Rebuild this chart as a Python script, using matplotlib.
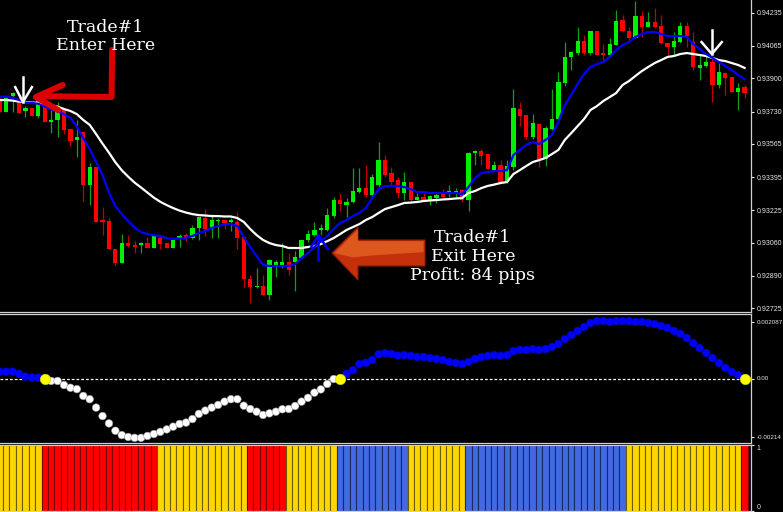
import numpy as np
import matplotlib
matplotlib.use("Agg")
import matplotlib.pyplot as plt
from matplotlib.patches import Polygon

plt.rcParams["font.family"] = ["Liberation Sans", "DejaVu Sans"]

# ---- price bars ----
opens = [
    .93789, .93728, .93809, .93789, .93733, .93748, .93707, .93753, .93677, .93687,
    .93738, .93641, .93585, .93625, .93355, .93447, .93176, .93171, .93028, .92956,
    .93058, .93048, .93048, .93058, .93033, .93084, .93058, .93033, .93084, .93099,
    .93084, .93135, .93186, .93135, .93171, .93176, .93166, .93166, .93089, .92874,
    .92834, .92839, .92793, .92936, .92936, .92961, .92961, .92982, .93074, .93099,
    .93125, .93125, .93196, .93278, .93252, .93268, .93319, .93339, .93304, .93355,
    .93482, .93416, .93380, .93314, .93370, .93278, .93293, .93278, .93288, .93309,
    .93314, .93314, .93329, .93278, .93518, .93528, .93513, .93431, .93457, .93370,
    .93447, .93743, .93712, .93600, .93666, .93488, .93641, .93692, .93876, .94009,
    .94029, .94090, .94029, .94142, .94029, .94019, .94070, .94198, .94142, .94106,
    .94218, .94162, .94188, .94167, .94080, .94060, .94085, .94167, .94085, .93953,
    .93963, .93983, .93866, .93927, .93907, .93830, .93855]
highs = [
    .93799, .93809, .93830, .93809, .93758, .93748, .93809, .93769, .93753, .93779,
    .93738, .93641, .93687, .93625, .93467, .93447, .93242, .93186, .93028, .93104,
    .93099, .93068, .93063, .93089, .93094, .93099, .93058, .93074, .93104, .93109,
    .93150, .93191, .93232, .93206, .93186, .93176, .93186, .93217, .93089, .92895,
    .92931, .92895, .92976, .92971, .93058, .93007, .93017, .93074, .93125, .93166,
    .93155, .93237, .93293, .93314, .93288, .93442, .93442, .93457, .93411, .93574,
    .93508, .93447, .93396, .93421, .93370, .93314, .93319, .93304, .93319, .93334,
    .93355, .93339, .93334, .93523, .93534, .93539, .93513, .93477, .93482, .93482,
    .93845, .93779, .93712, .93717, .93671, .93656, .93845, .93932, .94085, .94034,
    .94162, .94121, .94142, .94142, .94075, .94106, .94249, .94223, .94162, .94295,
    .94244, .94239, .94259, .94223, .94080, .94136, .94188, .94188, .94136, .94019,
    .94029, .94009, .93978, .93932, .93907, .93876, .93866]
lows = [
    .93728, .93728, .93728, .93723, .93702, .93707, .93697, .93677, .93620, .93600,
    .93615, .93554, .93498, .93273, .93252, .93166, .93099, .93028, .92946, .92956,
    .93038, .93007, .93007, .93033, .93033, .93028, .93033, .93033, .93038, .93068,
    .93079, .93074, .93094, .93084, .93084, .93130, .93120, .93028, .92834, .92752,
    .92828, .92793, .92767, .92885, .92931, .92895, .92813, .92982, .93063, .93094,
    .93099, .93120, .93186, .93222, .93191, .93263, .93314, .93293, .93293, .93344,
    .93396, .93355, .93288, .93278, .93268, .93278, .93268, .93252, .93263, .93293,
    .93293, .93293, .93268, .93222, .93457, .93457, .93436, .93426, .93365, .93365,
    .93431, .93656, .93590, .93590, .93447, .93452, .93636, .93687, .93861, .93942,
    .94019, .94019, .94019, .94019, .93983, .94009, .94070, .94136, .94085, .94106,
    .94111, .94162, .94157, .94075, .94019, .94019, .94080, .94060, .93942, .93891,
    .93958, .93779, .93850, .93815, .93830, .93738, .93799]
closes = [
    .93728, .93799, .93825, .93723, .93748, .93707, .93799, .93677, .93687, .93738,
    .93636, .93580, .93600, .93355, .93447, .93166, .93166, .93028, .92956, .93058,
    .93043, .93038, .93058, .93033, .93094, .93053, .93033, .93074, .93094, .93084,
    .93135, .93191, .93130, .93176, .93176, .93160, .93176, .93084, .92874, .92834,
    .92839, .92793, .92971, .92961, .92961, .92920, .92987, .93074, .93104, .93125,
    .93135, .93201, .93278, .93258, .93268, .93324, .93339, .93304, .93396, .93482,
    .93406, .93370, .93314, .93370, .93278, .93293, .93273, .93298, .93304, .93293,
    .93324, .93324, .93278, .93518, .93528, .93503, .93436, .93457, .93370, .93452,
    .93748, .93707, .93600, .93671, .93488, .93646, .93692, .93881, .94009, .94034,
    .94090, .94029, .94142, .94019, .94019, .94075, .94193, .94142, .94106, .94218,
    .94162, .94188, .94162, .94080, .94060, .94090, .94167, .94116, .93958, .93968,
    .93983, .93866, .93932, .93901, .93830, .93850, .93825]

# moving averages (blue = fast, white = slow), read per bar
ma_fast = [
    .93806, .93806, .93799, .93789, .93776, .93774, .93770, .93756, .93740, .93730,
    .93716, .93697, .93654, .93593, .93539, .93472, .93406, .93316, .93247, .93206,
    .93171, .93137, .93114, .93104, .93098, .93095, .93082, .93080, .93081, .93086,
    .93094, .93109, .93120, .93135, .93145, .93155, .93155, .93145, .93089, .93038,
    .92992, .92946, .92941, .92941, .92941, .92941, .92950, .92982, .93007, .93038,
    .93068, .93094, .93130, .93160, .93176, .93196, .93212, .93237, .93288, .93334,
    .93350, .93350, .93350, .93344, .93334, .93319, .93319, .93314, .93314, .93314,
    .93314, .93314, .93309, .93344, .93390, .93416, .93421, .93426, .93426, .93431,
    .93508, .93534, .93559, .93574, .93564, .93585, .93610, .93677, .93763, .93815,
    .93871, .93922, .93958, .93973, .93983, .94009, .94045, .94070, .94085, .94111,
    .94126, .94136, .94136, .94126, .94116, .94116, .94116, .94111, .94075, .94050,
    .94024, .94004, .93983, .93963, .93942, .93917, .93896]
ma_slow = [
    .93789, .93789, .93786, .93781, .93779, .93776, .93775, .93769, .93763, .93755,
    .93743, .93733, .93717, .93687, .93662, .93615, .93566, .93520, .93471, .93430,
    .93397, .93367, .93342, .93316, .93290, .93269, .93252, .93237, .93224, .93214,
    .93206, .93201, .93199, .93196, .93196, .93194, .93194, .93186, .93166, .93130,
    .93099, .93074, .93058, .93048, .93043, .93033, .93033, .93033, .93038, .93043,
    .93053, .93068, .93084, .93104, .93125, .93140, .93155, .93176, .93191, .93212,
    .93232, .93242, .93252, .93263, .93265, .93268, .93273, .93276, .93278, .93281,
    .93283, .93286, .93288, .93314, .93324, .93339, .93350, .93357, .93365, .93370,
    .93411, .93431, .93452, .93472, .93482, .93493, .93513, .93534, .93585, .93620,
    .93656, .93692, .93738, .93758, .93784, .93804, .93825, .93866, .93886, .93912,
    .93937, .93958, .93978, .93993, .94009, .94014, .94024, .94029, .94024, .94019,
    .94014, .94004, .93993, .93988, .93978, .93968, .93953]

# oscillator sub-window (dots)
osc = [
    0.00025, 0.00025, 0.00025, 0.00017, 0.00007, 0.00004, 0.00003, 0.0, -0.00009, -0.00009,
    -0.00024, -0.00034, -0.00039, -0.00064, -0.00076, -0.00107, -0.00138, -0.00165, -0.00192, -0.00208,
    -0.00215, -0.00218, -0.00218, -0.00211, -0.00204, -0.00196, -0.00187, -0.00177, -0.00167, -0.00162,
    -0.00149, -0.00130, -0.00118, -0.00107, -0.00097, -0.00085, -0.00076, -0.00076, -0.00100, -0.00112,
    -0.00122, -0.00134, -0.00128, -0.00122, -0.00113, -0.00112, -0.00101, -0.00085, -0.00071, -0.00052,
    -0.00040, -0.00020, -0.00002, 0.0, 0.00017, 0.00031, 0.00053, 0.00058, 0.00068, 0.00089,
    0.00093, 0.00090, 0.00084, 0.00086, 0.00083, 0.00079, 0.00079, 0.00075, 0.00072, 0.00068,
    0.00061, 0.00057, 0.00053, 0.00061, 0.00072, 0.00079, 0.00083, 0.00086, 0.00083, 0.00086,
    0.00101, 0.00105, 0.00105, 0.00108, 0.00105, 0.00108, 0.00116, 0.00127, 0.00145, 0.00160,
    0.00175, 0.00189, 0.00204, 0.00211, 0.00211, 0.00208, 0.00211, 0.00211, 0.00211, 0.00208,
    0.00208, 0.00204, 0.00200, 0.00193, 0.00186, 0.00175, 0.00164, 0.00149, 0.00130, 0.00112,
    0.00094, 0.00075, 0.00057, 0.00039, 0.00024, 0.00013, 0.0]
cross_bars = [7, 53, 116]

# trend histogram, as runs of bars
trend_states = ["flat", "down", "flat", "down", "flat", "up", "flat", "up", "flat", "down"]
trend_lengths = [7, 18, 14, 6, 8, 11, 9, 25, 18, 1]

price_ticks = [0.94235, 0.94065, 0.93900, 0.93730, 0.93565, 0.93395, 0.93225, 0.93060, 0.92890, 0.92725]
price_labels = ["0.94235", "0.94065", "0.93900", "0.93730", "0.93565",
                "0.93395", "0.93225", "0.93060", "0.92890", "0.92725"]
osc_ticks = [0.002087, 0.0, -0.00214]
osc_labels = ["0.002087", "0.00", "-0.00214"]

# ---- style ----
BG = "black"
FRAME = "#d0d0d0"
LBL = "#e8e8e8"
W, H = 783, 512

def box(top, bottom):
    return [0, 1 - bottom / H, 751 / W, (bottom - top) / H]

def style(ax, spines, size=5.0):
    ax.set_facecolor(BG)
    for name, sp in ax.spines.items():
        sp.set_visible(name in spines)
        sp.set_color(FRAME)
        sp.set_linewidth(0.9)
    ax.set_xticks([])
    ax.yaxis.tick_right()
    ax.tick_params(axis="y", colors=LBL, labelsize=size, length=2.5, width=0.8, pad=1.5)
    ax.set_xlim(0.03, 117.0)

fig = plt.figure(figsize=(W / 100, H / 100), dpi=100, facecolor=BG)
ax = fig.add_axes(box(0, 312))
ax2 = fig.add_axes(box(314, 443))
ax3 = fig.add_axes(box(444.7, 511))
style(ax, ["right", "bottom"])
style(ax2, ["right", "top", "bottom"], size=4.5)
style(ax3, ["right", "top", "bottom"])

# ---- main chart ----
o = np.array(opens); c = np.array(closes)
hi = np.array(highs); lo = np.array(lows)
x = np.arange(len(c))
up = c >= o
ax.vlines(x, lo, hi, colors=np.where(up, "#12a012", "#c00000"), lw=0.9, zorder=2)
body_h = np.maximum(np.abs(c - o), 0.00003)
ax.bar(x, body_h, bottom=np.minimum(o, c), width=0.66,
       color=np.where(up, "#00f000", "#ff0000"), lw=0, zorder=3)
ax.plot(x, ma_slow, color="white", lw=1.6, zorder=4)
ax.plot(x, ma_fast, color="#0000ff", lw=1.6, zorder=5)
ax.set_ylim(0.92706, 0.94300)
ax.set_yticks(price_ticks)
ax.set_yticklabels(price_labels)

# annotations
serif = dict(color="white", fontsize=12.5, family="DejaVu Serif",
             ha="center", va="center", zorder=9)
ax.text(16.4, 0.94162, "Trade#1", **serif)
ax.text(16.4, 0.94065, "Enter Here", **serif)
ax.text(73.7, 0.93089, "Trade#1", **serif)
ax.text(73.7, 0.92992, "Exit Here", **serif)
ax.text(73.7, 0.92895, "Profit: 84 pips", **serif)

red = dict(color="#dd0000", lw=4.3, solid_capstyle="round", solid_joinstyle="round", zorder=8)
ax.plot([17.5, 17.4, 6.3], [0.94045, 0.93804, 0.93809], **red)
ax.plot([9.8, 5.6, 9.1], [0.93866, 0.93804, 0.93738], **red)

white_arrow = dict(color="white", lw=1.8, zorder=8)
ax.plot([3.6, 3.6], [0.93907, 0.93779], **white_arrow)
ax.plot([2.4, 3.6, 5.0], [0.93855, 0.93779, 0.93855], **white_arrow)
ax.plot([110.9, 110.9], [0.94147, 0.94024], **white_arrow)
ax.plot([109.3, 110.9, 112.45], [0.94085, 0.94024, 0.94085], **white_arrow)

blue_arrow = dict(color="#0000ff", lw=1.8, zorder=8)
ax.plot([49.6, 49.6], [0.92971, 0.93099], **blue_arrow)
ax.plot([48.5, 49.6, 51.1], [0.93038, 0.93099, 0.93028], **blue_arrow)

big = [(51.74, 0.93007), (55.79, 0.93140), (55.79, 0.93074), (66.23, 0.93074),
       (66.23, 0.92941), (55.79, 0.92941), (55.79, 0.92869)]
ax.add_patch(Polygon(big, closed=True, facecolor="#c4300c", edgecolor="#8a1a05",
                     lw=0.8, zorder=7))
shine = [(52.1, 0.93007), (55.79, 0.93128), (55.79, 0.93068), (66.0, 0.93068),
         (66.0, 0.93012), (58.0, 0.92995), (55.0, 0.92985)]
ax.add_patch(Polygon(shine, closed=True, facecolor="#f27a2c", edgecolor="none",
                     alpha=0.55, zorder=7))

# ---- oscillator window ----
v = np.array(osc)
ax2.axhline(0, color="white", lw=0.9, ls=(0, (2.2, 1.6)), zorder=1)
ax2.scatter(x, v, s=30, c=np.where(v > 0, "#0000ff", "#ffffff"),
            edgecolors=np.where(v > 0, "#0000cc", "#9a9a9a"), linewidths=0.4, zorder=3)
ax2.scatter(cross_bars, v[cross_bars], s=56, c="#ffff00", edgecolors="#d8d800",
            linewidths=0.4, zorder=4)
ax2.set_ylim(-0.00237, 0.00237)
ax2.set_yticks(osc_ticks)
ax2.set_yticklabels(osc_labels)

# ---- trend histogram ----
fill = {"flat": "#ffd700", "down": "#ff0000", "up": "#4169e1"}
edge = {"flat": "#6e5a00", "down": "#7a0000", "up": "#1a2a66"}
states = [s for s, k in zip(trend_states, trend_lengths) for _ in range(k)]
ax3.bar(x, np.ones(len(states)), width=1.0, color=[fill[s] for s in states],
        edgecolor=[edge[s] for s in states], lw=0.8)
ax3.set_ylim(0, 1)
ax3.set_yticks([0, 1])
ax3.set_yticklabels(["0", "1"])
lbls = ax3.get_yticklabels()
lbls[0].set_va("bottom")
lbls[1].set_va("top")

fig.savefig("out.png", dpi=100, facecolor=BG)
